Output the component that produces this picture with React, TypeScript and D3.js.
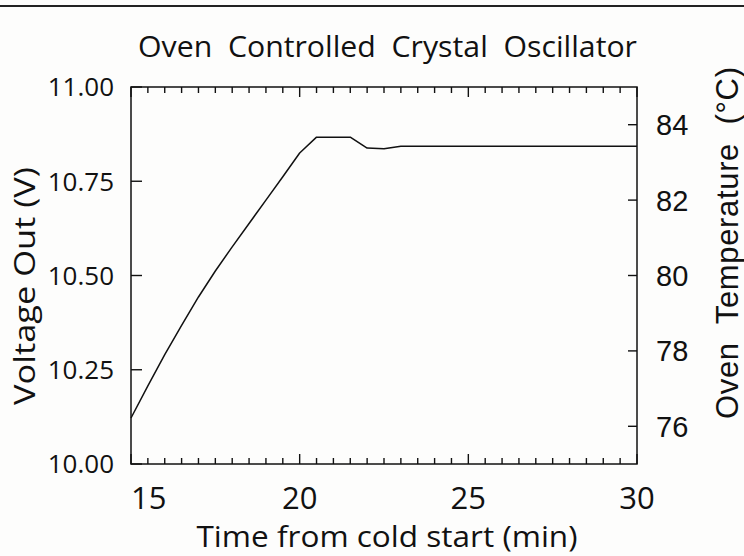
import React from 'react';
import * as d3 from 'd3';

const timeMin = [15, 15.5, 16, 16.5, 17, 17.5, 18, 18.5, 19, 19.5, 20, 20.5, 21, 21.5, 22, 22.5, 23, 24, 26, 28, 30];
const voltageOut = [10.122, 10.207, 10.29, 10.368, 10.443, 10.512, 10.576, 10.638, 10.7, 10.762, 10.825, 10.867, 10.867, 10.867, 10.838, 10.836, 10.843, 10.843, 10.843, 10.843, 10.843];
const xTickLabels = [15, 20, 25, 30];
const xMinorTicks = d3.range(0, 31).map((i) => 15 + i * 0.5);
const yTickLabels = [10.0, 10.25, 10.5, 10.75, 11.0];
const tempTickLabels = [76, 78, 80, 82, 84];

const W = 744;
const H = 556;
const box = { left: 131, right: 637, top: 87, bottom: 464 };

export default function App() {
  const x = d3.scaleLinear().domain([15, 30]).range([box.left, box.right]);
  const y = d3.scaleLinear().domain([10, 11]).range([box.bottom, box.top]);
  const yT = d3.scaleLinear().domain([75, 85]).range([box.bottom, box.top]);
  const line = d3
    .line<number>()
    .x((_, i) => x(timeMin[i]))
    .y((d) => y(d))(voltageOut) as string;

  const stroke = '#111';
  const sansA = "'Open Sans', 'DejaVu Sans', sans-serif";
  const sansB = "'Liberation Sans', Arial, sans-serif";

  const tickLines: JSX.Element[] = [];
  xMinorTicks.forEach((t, i) => {
    const major = i % 10 === 0;
    const len = major ? 10 : 6;
    const px = x(t);
    tickLines.push(
      <line key={'tt' + i} x1={px} x2={px} y1={box.top} y2={box.top + len} stroke={stroke} strokeWidth={1.4} />
    );
    tickLines.push(
      <line key={'tb' + i} x1={px} x2={px} y1={box.bottom} y2={box.bottom - len} stroke={stroke} strokeWidth={1.4} />
    );
  });

  return (
    <div style={{ position: 'fixed', left: 0, top: 0, width: W, height: H, background: '#fff' }}>
      <svg width={W} height={H} style={{ display: 'block' }}>
        <rect x={0} y={0} width={W} height={H} fill="#fdfdfc" />
        <line x1={0} x2={W} y1={6} y2={6} stroke="#222" strokeWidth={2} />
        {/* title */}
        <text
          x={138}
          y={57}
          fontFamily={sansA}
          fontSize={29}
          fontWeight={500}
          fill={stroke}
          textLength={499}
          lengthAdjust="spacingAndGlyphs"
          style={{ whiteSpace: 'pre' }}
        >
          {'Oven  Controlled  Crystal  Oscillator'}
        </text>
        {/* frame */}
        <rect
          x={box.left}
          y={box.top}
          width={box.right - box.left}
          height={box.bottom - box.top}
          fill="none"
          stroke={stroke}
          strokeWidth={1.5}
        />
        {tickLines}
        {/* left ticks */}
        {yTickLabels.map((v, i) => (
          <g key={'yl' + i}>
            <line x1={box.left} x2={box.left + 11} y1={y(v)} y2={y(v)} stroke={stroke} strokeWidth={1.4} />
            <text
              x={114}
              y={y(v)}
              dy="0.36em"
              textAnchor="end"
              fontFamily={sansA}
              fontSize={26}
              fill={stroke}
            >
              {d3.format('.2f')(v)}
            </text>
          </g>
        ))}
        {/* right ticks */}
        {tempTickLabels.map((v, i) => (
          <g key={'yr' + i}>
            <line x1={box.right} x2={box.right - 9} y1={yT(v)} y2={yT(v)} stroke={stroke} strokeWidth={1.4} />
            <text
              x={656}
              y={yT(v)}
              dy="0.36em"
              textAnchor="start"
              fontFamily={sansB}
              fontSize={29}
              fill={stroke}
            >
              {v}
            </text>
          </g>
        ))}
        {/* x labels */}
        {xTickLabels.map((v, i) => (
          <text
            key={'xl' + i}
            x={x(v)}
            y={509}
            textAnchor={i === 0 ? 'start' : 'middle'}
            fontFamily={sansA}
            fontSize={31}
            fill={stroke}
          >
            {v}
          </text>
        ))}
        <text
          x={387}
          y={547}
          textAnchor="middle"
          fontFamily={sansA}
          fontSize={29}
          fill={stroke}
          textLength={381}
          lengthAdjust="spacingAndGlyphs"
        >
          Time from cold start (min)
        </text>
        {/* y titles */}
        <text
          transform={`translate(35, 286) rotate(-90)`}
          textAnchor="middle"
          fontFamily={sansA}
          fontSize={30}
          fill={stroke}
          textLength={238}
          lengthAdjust="spacingAndGlyphs"
        >
          Voltage Out (V)
        </text>
        <text
          transform={`translate(738, 243) rotate(-90)`}
          textAnchor="middle"
          fontFamily={sansB}
          fontSize={31}
          fill={stroke}
          textLength={352}
          lengthAdjust="spacing"
          style={{ whiteSpace: 'pre' }}
        >
          {'Oven  Temperature  (°C)'}
        </text>
        {/* data */}
        <path d={line} fill="none" stroke={stroke} strokeWidth={1.5} strokeLinejoin="round" />
      </svg>
    </div>
  );
}
